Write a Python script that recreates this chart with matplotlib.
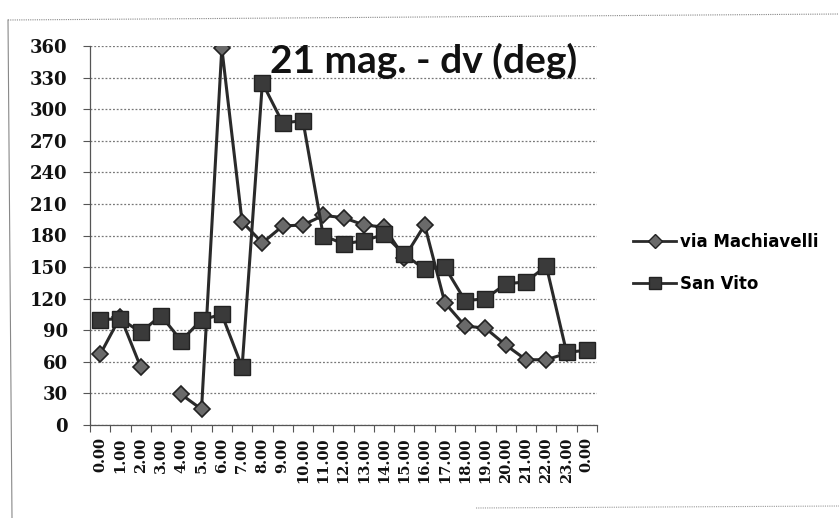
import numpy as np
import matplotlib
matplotlib.use("Agg")
import matplotlib.pyplot as plt
from matplotlib.lines import Line2D

hours = ["0.00", "1.00", "2.00", "3.00", "4.00", "5.00", "6.00", "7.00", "8.00", "9.00",
         "10.00", "11.00", "12.00", "13.00", "14.00", "15.00", "16.00", "17.00", "18.00",
         "19.00", "20.00", "21.00", "22.00", "23.00", "0.00"]
via_machiavelli = [67, 103, 55, np.nan, 29, 15, 358, 193, 173, 189, 190, 199, 197, 190, 188,
                   159, 190, 116, 94, 92, 76, 62, 62, 68, np.nan]
san_vito = [100, 101, 88, 104, 80, 100, 105, 55, 325, 287, 289, 180, 172, 175, 181,
            162, 148, 150, 118, 120, 134, 136, 151, 69, 71]
yticks = [0, 30, 60, 90, 120, 150, 180, 210, 240, 270, 300, 330, 360]
title = "21 mag. - dv (deg)"

W, H = 839, 518
fig = plt.figure(figsize=(W / 100, H / 100), dpi=100)
fig.patch.set_facecolor("white")

ax = fig.add_axes([90 / W, 1 - 425 / H, (597 - 90) / W, (425 - 46) / H])
x = np.arange(len(hours))

ax.plot(x, via_machiavelli, color="#2a2a2a", lw=2.2, marker="D", markersize=8.5,
        markerfacecolor="#6a6a6a", markeredgecolor="#222222", markeredgewidth=1.2,
        label="via Machiavelli", zorder=3)
ax.plot(x, san_vito, color="#2a2a2a", lw=2.2, marker="s", markersize=12,
        markerfacecolor="#3a3a3a", markeredgecolor="#222222", markeredgewidth=1.0,
        label="San Vito", zorder=4)

ax.set_xlim(-0.5, len(hours) - 0.5)
ax.set_ylim(0, 360)
ax.set_yticks(yticks)
ax.set_yticklabels([str(v) for v in yticks], family="DejaVu Serif", fontweight="bold",
                   fontsize=13, color="#111111")
ax.set_xticks(x)
ax.set_xticklabels(hours, rotation=90, family="DejaVu Serif", fontweight="bold",
                   fontsize=10.5, color="#111111")
ax.set_xticks(np.arange(-0.5, len(hours)), minor=True)
ax.tick_params(axis="x", which="major", length=0, pad=9)
ax.tick_params(axis="x", which="minor", length=5, width=0.8, color="#555555", direction="out")
ax.tick_params(axis="y", length=5, width=0.8, color="#555555", pad=11)

ax.grid(axis="y", color="#777777", linestyle=(0, (1.5, 1.5)), lw=0.9)
ax.set_axisbelow(True)
for s in ["top", "right"]:
    ax.spines[s].set_visible(False)
for s in ["left", "bottom"]:
    ax.spines[s].set_color("#555555")
    ax.spines[s].set_linewidth(0.9)

fig.text(424 / W, 1 - 61 / H, title, ha="center", va="center", family="Lato",
         fontweight="bold", fontsize=28, color="#111111")

h1 = Line2D([], [], color="#2a2a2a", lw=2.0, marker="D", markersize=7,
            markerfacecolor="#6a6a6a", markeredgecolor="#222222")
h2 = Line2D([], [], color="#2a2a2a", lw=2.0, marker="s", markersize=9,
            markerfacecolor="#3a3a3a", markeredgecolor="#222222")
fig.legend([h1, h2], ["via Machiavelli", "San Vito"], loc="center left",
           bbox_to_anchor=(618 / W, 1 - 263 / H), frameon=False,
           prop={"family": "DejaVu Sans", "weight": "bold", "size": 12},
           handlelength=2.6, handletextpad=0.2, labelspacing=1.45)

# outer chart border
fig.add_artist(Line2D([8 / W, 1.0], [1 - 20 / H, 1 - 14 / H], color="#888888", lw=0.8,
                      linestyle=(0, (1, 1))))
fig.add_artist(Line2D([8 / W, 12 / W], [1 - 20 / H, 0.0], color="#888888", lw=0.8))
fig.add_artist(Line2D([476 / W, 1.0], [1 - 508 / H, 1 - 506 / H], color="#999999", lw=0.8,
                      linestyle=(0, (1, 1))))

fig.savefig("out.png", dpi=100)
